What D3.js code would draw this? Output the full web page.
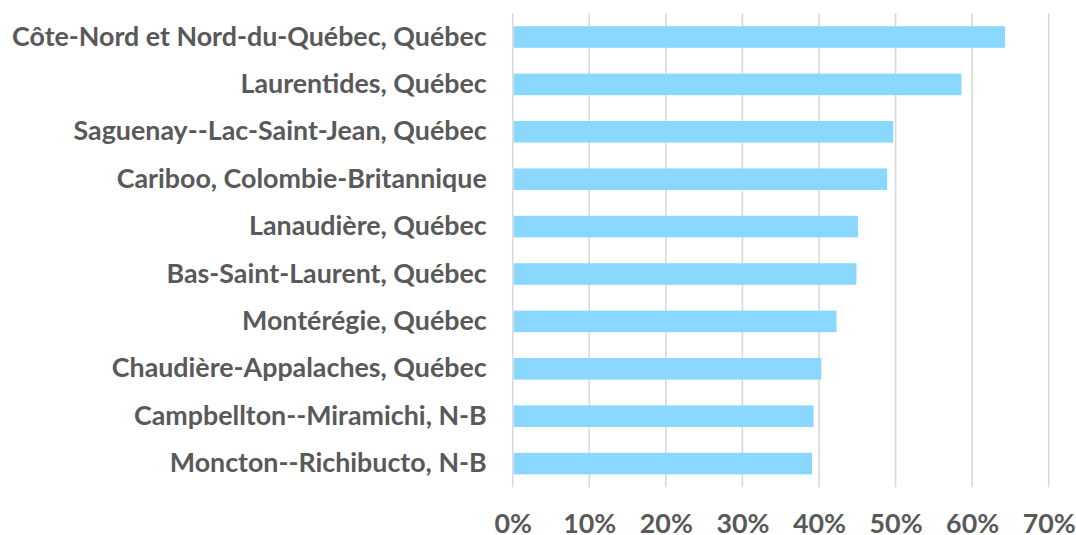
<!DOCTYPE html>
<html><head><meta charset="utf-8">
<script src="https://cdn.jsdelivr.net/npm/d3@7"></script>
<style>html,body{margin:0;padding:0;background:#fff;}svg{display:block;}</style>
</head><body>
<svg id="chart" width="1076" height="535"></svg>
<script>
const categories = [
  "Côte-Nord et Nord-du-Québec, Québec",
  "Laurentides, Québec",
  "Saguenay--Lac-Saint-Jean, Québec",
  "Cariboo, Colombie-Britannique",
  "Lanaudière, Québec",
  "Bas-Saint-Laurent, Québec",
  "Montérégie, Québec",
  "Chaudière-Appalaches, Québec",
  "Campbellton--Miramichi, N-B",
  "Moncton--Richibucto, N-B"
];
const values = [0.643, 0.586, 0.497, 0.489, 0.451, 0.449, 0.423, 0.403, 0.393, 0.391];
const tickValues = [0, 0.1, 0.2, 0.3, 0.4, 0.5, 0.6, 0.7];

(function () {
const svg = d3.select("#chart");
const pLeft = 512.7, pRight = 1048.7, pTop = 13.3, pBottom = 487.3;
const font = "Lato, 'Open Sans', sans-serif";
const textColor = "#595959";
const fs = 26.8;

const x = d3.scaleLinear().domain([0, 0.7]).range([pLeft, pRight]);
const y = d3.scaleBand().domain(categories).range([pTop, pBottom]).paddingInner(0.545).paddingOuter(0.2725);

svg.append("g").selectAll("line").data(tickValues).join("line")
  .attr("x1", d => x(d)).attr("x2", d => x(d))
  .attr("y1", pTop).attr("y2", pBottom)
  .attr("stroke", "#d9d9d9").attr("stroke-width", 1.6);

svg.append("g").selectAll("rect").data(values).join("rect")
  .attr("x", x(0) + 1)
  .attr("y", (d, i) => y(categories[i]))
  .attr("width", d => x(d) - x(0) - 1)
  .attr("height", y.bandwidth())
  .attr("fill", "#8ad8ff");

const yAxis = svg.append("g").attr("transform", `translate(${pLeft - 26},0)`)
  .call(d3.axisLeft(y).tickSize(0).tickPadding(0));
yAxis.select(".domain").remove();
yAxis.selectAll("text")
  .attr("font-family", font).attr("font-weight", "bold").attr("font-size", fs)
  .attr("fill", textColor);

const xAxis = svg.append("g").attr("transform", `translate(0,${pBottom})`)
  .call(d3.axisBottom(x).tickValues(tickValues).tickFormat(d3.format(".0%")).tickSize(0));
xAxis.select(".domain").remove();
xAxis.selectAll("text")
  .attr("y", 45.5).attr("dy", null)
  .attr("font-family", font).attr("font-weight", "bold").attr("font-size", fs)
  .attr("fill", textColor);
})();
</script>
</body></html>
